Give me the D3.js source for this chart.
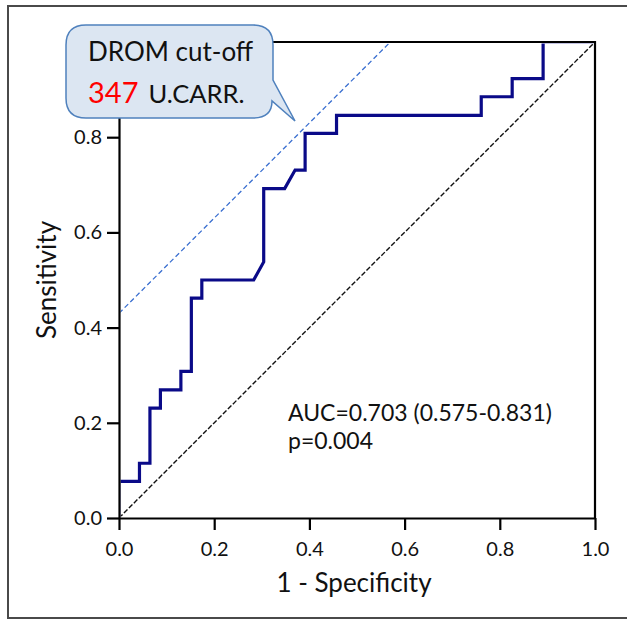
<!DOCTYPE html>
<html>
<head>
<meta charset="utf-8">
<script src="https://cdn.jsdelivr.net/npm/d3@7"></script>
<style>
  body { margin: 0; background: #fff; }
  text { font-family: Lato, "Noto Sans", sans-serif; fill: #111; }
</style>
</head>
<body>
<div id="chart"></div>
<script>
// ROC curve
var fpr = [0, 0, 0.043, 0.043, 0.065, 0.065, 0.087, 0.087, 0.130, 0.130, 0.152, 0.152,
    0.174, 0.174, 0.283, 0.304, 0.304, 0.348, 0.370, 0.391, 0.391, 0.457, 0.457,
    0.761, 0.761, 0.826, 0.826, 0.891, 0.891, 1];
var tpr = [0, 0.077, 0.077, 0.115, 0.115, 0.231, 0.231, 0.269, 0.269, 0.308, 0.308, 0.462,
    0.462, 0.500, 0.500, 0.538, 0.692, 0.692, 0.731, 0.731, 0.808, 0.808, 0.846,
    0.846, 0.885, 0.885, 0.923, 0.923, 1, 1];

var refLine = [[0, 0], [1, 1]];
var cutoffLine = [[0, 0.43], [0.57, 1]];
var tickValues = [0, 0.2, 0.4, 0.6, 0.8, 1.0];

var xTitle = "1 - Specificity";
var yTitle = "Sensitivity";
var aucText = "AUC=0.703 (0.575-0.831)";
var pText = "p=0.004";
var calloutTitle = "DROM cut-off";
var cutoffValue = "347";
var cutoffUnit = "U.CARR.";

var svgWidth = 627;
var svgHeight = 619;

var margin =
{
    top: 42,
    right: 32,
    bottom: 101,
    left: 119
};

var width = svgWidth - margin.left - margin.right;
var height = svgHeight - margin.top - margin.bottom;

var svg = d3
    .select("#chart")
    .append("svg")
    .attr("width", svgWidth)
    .attr("height", svgHeight);

// outer frame (right side runs off the picture)
svg.append("path")
    .attr("d", "M640,6 L8,6 L8,618 L640,618")
    .attr("fill", "none")
    .attr("stroke", "#4a4a4a")
    .attr("stroke-width", 2);

svg.append("clipPath")
    .attr("id", "plotClip")
    .append("rect")
    .attr("x", 1.5)
    .attr("y", 1.5)
    .attr("width", width - 3)
    .attr("height", height - 3);

var chartGroup = svg
    .append("g")
    .attr("transform", `translate(${margin.left}, ${margin.top})`);

var xScale = d3.scaleLinear().domain([0, 1]).range([0, width]);
var yScale = d3.scaleLinear().domain([0, 1]).range([height, 0]);

var line = d3.line()
    .x(d => xScale(d[0]))
    .y(d => yScale(d[1]));

var plotArea = chartGroup.append("g")
    .attr("clip-path", "url(#plotClip)");

// chance diagonal
plotArea.append("path")
    .datum(refLine)
    .attr("d", line)
    .attr("fill", "none")
    .attr("stroke", "#111")
    .attr("stroke-width", 1.4)
    .attr("stroke-dasharray", "5,2");

// cut-off iso line
plotArea.append("path")
    .datum(cutoffLine)
    .attr("d", line)
    .attr("fill", "none")
    .attr("stroke", "#3a6fd0")
    .attr("stroke-width", 1.3)
    .attr("stroke-dasharray", "5,3");

var rocData = fpr.map((f, i) => [f, tpr[i]]);

plotArea.append("path")
    .datum(rocData)
    .attr("d", line)
    .attr("fill", "none")
    .attr("stroke", "#0a0a88")
    .attr("stroke-width", 3.2)
    .attr("stroke-linejoin", "miter");

// top and right frame of the plot
chartGroup.append("path")
    .attr("d", `M0,0 L${width},0 L${width},${height}`)
    .attr("fill", "none")
    .attr("stroke", "#000")
    .attr("stroke-width", 2.2);

var bottomAxis = d3.axisBottom(xScale)
    .tickValues(tickValues)
    .tickFormat(d3.format(".1f"))
    .tickSize(12)
    .tickSizeOuter(0)
    .tickPadding(12);

var leftAxis = d3.axisLeft(yScale)
    .tickValues(tickValues.slice(0, 5))
    .tickFormat(d3.format(".1f"))
    .tickSize(12)
    .tickSizeOuter(0)
    .tickPadding(5);

var xAxis = chartGroup.append("g")
    .attr("transform", `translate(0, ${height})`)
    .call(bottomAxis);

var yAxis = chartGroup.append("g")
    .call(leftAxis);

[xAxis, yAxis].forEach(ax =>
{
    ax.select(".domain").attr("stroke", "#000").attr("stroke-width", 2.2);
    ax.selectAll(".tick line").attr("stroke", "#000").attr("stroke-width", 2.2);
    ax.selectAll(".tick text")
        .attr("fill", "#111")
        .style("font-family", "Lato, sans-serif")
        .style("font-size", "20px");
});

// axis titles
chartGroup.append("text")
    .attr("x", width / 2 - 3)
    .attr("y", height + 74)
    .attr("text-anchor", "middle")
    .style("font-size", "26px")
    .text(xTitle);

chartGroup.append("text")
    .attr("transform", "rotate(-90)")
    .attr("x", -(height / 2))
    .attr("y", -63)
    .attr("text-anchor", "middle")
    .style("font-size", "26px")
    .text(yTitle);

// AUC annotation
chartGroup.append("text")
    .attr("x", 169)
    .attr("y", 379)
    .style("font-size", "23px")
    .text(aucText);

chartGroup.append("text")
    .attr("x", 169)
    .attr("y", 407)
    .style("font-size", "23px")
    .text(pText);

// callout bubble
var r = 20;
var bx0 = 66, by0 = 25, bx1 = 273, by1 = 118;
var bubble = `M${bx0 + r},${by0} L${bx1 - r},${by0} Q${bx1},${by0} ${bx1},${by0 + r}` +
    ` L${bx1},80 L295,121 L${bx1 - 1},101` +
    ` Q${bx1 - 1},${by1} ${bx1 - r},${by1} L${bx0 + r},${by1} Q${bx0},${by1} ${bx0},${by1 - r}` +
    ` L${bx0},${by0 + r} Q${bx0},${by0} ${bx0 + r},${by0} Z`;

svg.append("path")
    .attr("d", bubble)
    .attr("fill", "#dce6f2")
    .attr("stroke", "#4f81bd")
    .attr("stroke-width", 1.5);

svg.append("text")
    .attr("x", 88)
    .attr("y", 61)
    .style("font-size", "26px")
    .text(calloutTitle);

var line2 = svg.append("text")
    .attr("x", 88)
    .attr("y", 103);

line2.append("tspan")
    .style("font-size", "29px")
    .style("fill", "#ff0000")
    .text(cutoffValue);

line2.append("tspan")
    .attr("dx", 10)
    .style("font-size", "25.5px")
    .text(cutoffUnit);
</script>
</body>
</html>
